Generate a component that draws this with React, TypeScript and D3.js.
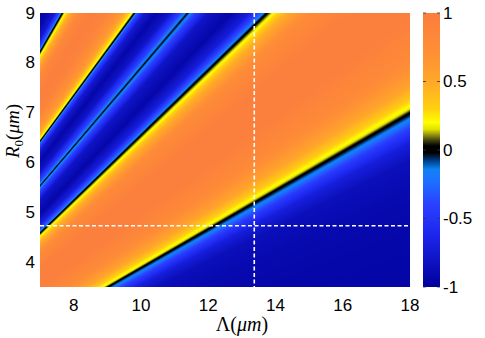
import React, { useEffect, useRef } from 'react';
import * as d3 from 'd3';

// axes
const xDomain = [7, 18];
const yDomain = [3.5, 9];
const xTicks = [8, 10, 12, 14, 16, 18];
const yTicks = [4, 5, 6, 7, 8, 9];
const cbTicks = [-1, -0.5, 0, 0.5, 1];

// the map only depends on R0/Λ: values read along that ratio
const profileRatio = [
  0.15, 0.25, 0.3, 0.335, 0.355, 0.37, 0.38, 0.388,
  0.393, 0.405, 0.42, 0.45, 0.5, 0.55, 0.6, 0.63, 0.645, 0.655,
  0.662, 0.68, 0.71, 0.75, 0.775, 0.79,
  0.805, 0.83, 0.86, 0.89, 0.908, 0.917,
  0.925, 0.95, 1.0, 1.05, 1.1, 1.14, 1.16, 1.175,
  1.185, 1.21, 1.25, 1.3,
];
const profileValue = [
  -0.96, -0.93, -0.9, -0.85, -0.7, -0.45, -0.2, 0,
  0.15, 0.35, 0.55, 0.8, 0.97, 0.97, 0.78, 0.45, 0.2, 0,
  -0.25, -0.7, -0.93, -0.8, -0.4, -0.02,
  -0.4, -0.8, -0.93, -0.75, -0.35, 0,
  0.2, 0.6, 0.9, 0.97, 0.85, 0.5, 0.22, 0,
  -0.3, -0.75, -0.92, -0.95,
];

// dashed marker lines
const markerLambda = 13.37;
const markerR0 = 4.73;

// colormap
const cmapValues = [-1, -0.6, -0.4, -0.2, -0.14, -0.1, -0.06, -0.02, 0.03, 0.07, 0.11, 0.15, 0.2, 0.3, 0.5, 0.7, 1];
const cmapColors = [
  '#00009a', '#1e28f0', '#2a40ff', '#1a78ff', '#1080f0', '#0058b0', '#002a60', '#000000',
  '#000000', '#404010', '#909010', '#e0e000', '#ffff00', '#ffd010', '#ffa828', '#ff9035', '#fa7d3e',
];

const W = 485;
const H = 338;
const margin = { top: 13, right: 75, bottom: 51, left: 40 };
const cb = { x: 423, w: 17 };

const tickFont = "'Liberation Sans', Arial, sans-serif";
const mathFont = "'Liberation Serif', 'Times New Roman', serif";

const App = () => {
  const imgRef = useRef<SVGImageElement>(null);

  const pw = W - margin.left - margin.right;
  const ph = H - margin.top - margin.bottom;

  const x = d3.scaleLinear().domain(xDomain).range([0, pw]);
  const y = d3.scaleLinear().domain(yDomain).range([ph, 0]);
  const cbScale = d3.scaleLinear().domain([-1, 1]).range([ph, 0]);
  const profile = d3.scaleLinear().domain(profileRatio).range(profileValue).clamp(true);
  const color = d3.scaleLinear<string>().domain(cmapValues).range(cmapColors).clamp(true);

  useEffect(() => {
    if (!imgRef.current) return;
    const canvas = document.createElement('canvas');
    canvas.width = pw;
    canvas.height = ph;
    const ctx = canvas.getContext('2d');
    if (!ctx) return;
    const img = ctx.createImageData(pw, ph);
    for (let j = 0; j < ph; j++) {
      for (let i = 0; i < pw; i++) {
        const lam = x.invert(i + 0.5);
        const r0 = y.invert(j + 0.5);
        const c = d3.rgb(color(profile(r0 / lam)));
        const k = (j * pw + i) * 4;
        img.data[k] = c.r;
        img.data[k + 1] = c.g;
        img.data[k + 2] = c.b;
        img.data[k + 3] = 255;
      }
    }
    ctx.putImageData(img, 0, 0);
    d3.select(imgRef.current).attr('href', canvas.toDataURL());
  }, []);

  return (
    <svg width={W} height={H} style={{ position: 'absolute', left: 0, top: 0, background: '#fff' }}>
      <defs>
        <linearGradient id="cbGrad" x1="0" y1="1" x2="0" y2="0">
          {cmapValues.map((v, i) => (
            <stop key={i} offset={(v + 1) / 2} stopColor={cmapColors[i]} />
          ))}
        </linearGradient>
      </defs>

      <g transform={`translate(${margin.left},${margin.top})`}>
        <image ref={imgRef} x={0} y={0} width={pw} height={ph} preserveAspectRatio="none" />

        <line x1={x(markerLambda)} x2={x(markerLambda)} y1={0} y2={ph}
          stroke="#fff" strokeWidth={1.6} strokeDasharray="4,2.5" />
        <line x1={0} x2={pw} y1={y(markerR0)} y2={y(markerR0)}
          stroke="#fff" strokeWidth={1.6} strokeDasharray="4,2.5" />

        {xTicks.map(t => (
          <text key={t} x={x(t)} y={ph + 18} textAnchor="middle" dominantBaseline="central"
            fontFamily={tickFont} fontSize={17} fill="#000">{t}</text>
        ))}
        {yTicks.map(t => (
          <text key={t} x={-5} y={y(t)} textAnchor="end" dominantBaseline="central"
            fontFamily={tickFont} fontSize={17} fill="#000">{t}</text>
        ))}

        <text x={pw / 2 + 17} y={ph + 44} textAnchor="middle" fontFamily={mathFont} fontSize={20} fill="#000">
          Λ(<tspan fontStyle="italic">μm</tspan>)
        </text>
        <text transform={`translate(${-21},${ph / 2 - 19}) rotate(-90)`} textAnchor="middle"
          fontFamily={mathFont} fontSize={19} fill="#000">
          <tspan fontStyle="italic">R</tspan>
          <tspan fontSize={13} dy={4}>0</tspan>
          <tspan dy={-4}>(</tspan>
          <tspan fontStyle="italic">μm</tspan>
          <tspan>)</tspan>
        </text>
      </g>

      <g transform={`translate(${cb.x},${margin.top})`}>
        <rect x={0} y={0} width={cb.w} height={ph} fill="url(#cbGrad)" />
        {cbTicks.map(t => (
          <g key={t}>
            <line x1={0} x2={3} y1={cbScale(t)} y2={cbScale(t)} stroke="#333" strokeWidth={0.8} />
            <line x1={cb.w - 3} x2={cb.w} y1={cbScale(t)} y2={cbScale(t)} stroke="#333" strokeWidth={0.8} />
            <text x={cb.w + 3} y={cbScale(t)} dominantBaseline="central"
              fontFamily={tickFont} fontSize={17} fill="#000">{t}</text>
          </g>
        ))}
      </g>
    </svg>
  );
};

export default App;
